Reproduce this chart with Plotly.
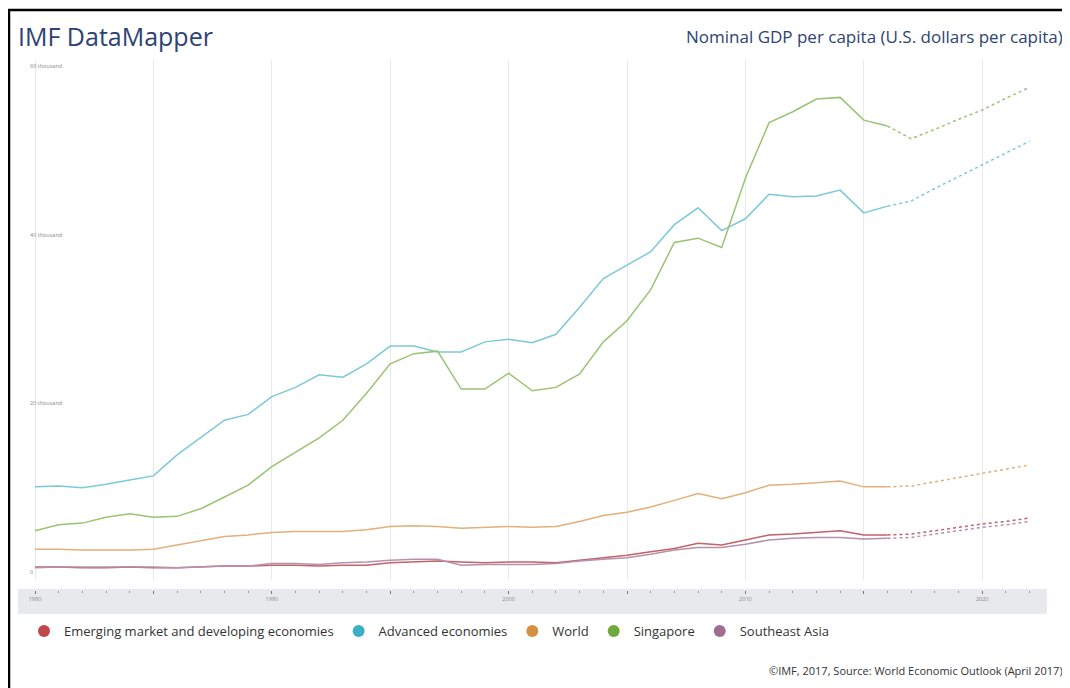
import plotly.graph_objects as go

years_hist = list(range(1980, 2017))
years_proj = list(range(2016, 2023))

emerging = [0.6, 0.6, 0.5, 0.5, 0.6, 0.5, 0.5, 0.6, 0.7, 0.7,
            0.8, 0.8, 0.7, 0.8, 0.8, 1.1, 1.2, 1.3, 1.2, 1.1,
            1.2, 1.2, 1.1, 1.4, 1.7, 2.0, 2.4, 2.8, 3.4, 3.2,
            3.8, 4.4, 4.5, 4.7, 4.9, 4.4, 4.4]
emerging_proj = [4.4, 4.5, 4.9, 5.3, 5.7, 6.0, 6.4]

advanced = [10.1, 10.2, 10.0, 10.4, 10.9, 11.4, 13.9, 16.0, 18.0, 18.7,
            20.8, 21.9, 23.4, 23.1, 24.7, 26.8, 26.8, 26.1, 26.1, 27.3,
            27.6, 27.2, 28.2, 31.4, 34.8, 36.4, 38.0, 41.2, 43.2, 40.5,
            41.9, 44.8, 44.5, 44.6, 45.3, 42.6, 43.4]
advanced_proj = [43.4, 44.0, 45.5, 46.9, 48.3, 49.7, 51.1]

world = [2.7, 2.7, 2.6, 2.6, 2.6, 2.7, 3.2, 3.7, 4.2, 4.4,
         4.7, 4.8, 4.8, 4.8, 5.0, 5.4, 5.5, 5.4, 5.2, 5.3,
         5.4, 5.3, 5.4, 6.0, 6.7, 7.1, 7.7, 8.5, 9.3, 8.7,
         9.4, 10.3, 10.4, 10.6, 10.8, 10.1, 10.1]
world_proj = [10.1, 10.2, 10.7, 11.2, 11.7, 12.2, 12.7]

singapore = [4.9, 5.6, 5.8, 6.5, 6.9, 6.5, 6.6, 7.5, 8.9, 10.3,
             12.5, 14.2, 15.9, 18.0, 21.2, 24.7, 25.9, 26.2, 21.7, 21.7,
             23.6, 21.5, 21.9, 23.5, 27.3, 29.8, 33.5, 39.1, 39.6, 38.5,
             46.7, 53.3, 54.6, 56.1, 56.3, 53.6, 52.9]
singapore_proj = [52.9, 51.4, 52.5, 53.7, 54.8, 56.2, 57.5]

seasia = [0.5, 0.6, 0.6, 0.6, 0.6, 0.6, 0.5, 0.6, 0.7, 0.7,
          1.0, 1.0, 0.9, 1.1, 1.2, 1.4, 1.5, 1.5, 0.8, 0.9,
          0.9, 0.9, 1.0, 1.3, 1.5, 1.7, 2.1, 2.6, 2.9, 2.9,
          3.3, 3.8, 4.0, 4.1, 4.1, 3.9, 4.0]
seasia_proj = [4.0, 4.1, 4.5, 4.9, 5.3, 5.6, 6.0]

names = ["Emerging market and developing economies", "Advanced economies",
         "World", "Singapore", "Southeast Asia"]
hist = [emerging, advanced, world, singapore, seasia]
proj = [emerging_proj, advanced_proj, world_proj, singapore_proj, seasia_proj]
dot_colors = ["#c1474e", "#3daec6", "#d4903f", "#6eaa3b", "#9e6d90"]
line_colors = ["#c2626a", "#7cc9d9", "#e2b07a", "#99c472", "#b790ab"]

y_tickvals = [0, 20, 40, 60]
y_ticktext = ["0", "20 thousand", "40 thousand", "60 thousand"]
x_tickvals = list(range(1980, 2021, 5))
x_ticktext = ["1980", "", "1990", "", "2000", "", "2010", "", "2020"]

fig = go.Figure()
for n, h, p, lc in zip(names, hist, proj, line_colors):
    fig.add_trace(go.Scatter(x=years_hist, y=h, mode="lines", name=n,
                             line=dict(color=lc, width=1.5), showlegend=False))
    fig.add_trace(go.Scatter(x=years_proj, y=p, mode="lines", name=n,
                             line=dict(color=lc, width=1.5, dash="dot"), showlegend=False))
for n, dc in zip(names, dot_colors):
    fig.add_trace(go.Scatter(x=[None], y=[None], mode="markers", name=n,
                             marker=dict(color=dc, size=12, symbol="circle")))

OFF = 8  # page body margin
W, H = 1070 - OFF, 688 - OFF
L, R, T, B = 18 - OFF, 23, 60 - OFF, 74
ph = H - T - B
pw = W - L - R

def py(pix):
    return (H - B - (pix - OFF)) / ph

def px(pix):
    return (pix - OFF - L) / pw

navy = "#2d4373"
font = "Open Sans"

fig.update_layout(
    width=W, height=H,
    margin=dict(l=L, r=R, t=T, b=B),
    paper_bgcolor="white", plot_bgcolor="white",
    font=dict(family=font, color="#333333"),
    xaxis=dict(range=[1980 - 17 / 23.68, 1980 + 1012 / 23.68],
               tickvals=x_tickvals, ticktext=x_ticktext,
               showgrid=True, gridcolor="#e9e9e9", gridwidth=1,
               zeroline=False, showline=False,
               anchor="free", position=py(590),
               ticks="outside", ticklen=3, tickcolor="#777777", tickwidth=1,
               minor=dict(dtick=1, ticks="outside", ticklen=2, tickcolor="#999999", showgrid=False),
               tickfont=dict(size=5.5, color="#888888")),
    yaxis=dict(range=[-8 / 8.43, (572 - 60) / 8.43],
               domain=[py(580), 1],
               side="right", anchor="free", position=px(28),
               tickvals=y_tickvals, ticktext=y_ticktext,
               ticklabelstandoff=1,
               showgrid=False, zeroline=False, showline=False, ticks="",
               tickfont=dict(size=5.5, color="#888888")),
    legend=dict(orientation="h", x=px(24), y=py(631), xanchor="left", yanchor="middle",
                font=dict(size=13, color="#333333", family=font),
                itemsizing="constant", bgcolor="rgba(0,0,0,0)"),
    showlegend=True,
)

fig.add_shape(type="rect", xref="paper", yref="paper", x0=0, x1=1, y0=0, y1=py(589),
              fillcolor="#e7e9ec", line=dict(width=0), layer="below")
fig.add_shape(type="path", xref="paper", yref="paper",
              path=f"M {px(9)} {py(700)} L {px(9)} {py(10)} L {px(1080)} {py(10)}",
              line=dict(color="black", width=2.5))

fig.add_annotation(text="IMF DataMapper", xref="paper", yref="paper",
                   x=px(16), y=py(36), xanchor="left", yanchor="middle", showarrow=False,
                   font=dict(size=25, color=navy, family=font))
fig.add_annotation(text="Nominal GDP per capita (U.S. dollars per capita)", xref="paper", yref="paper",
                   x=px(1065), y=py(36), xanchor="right", yanchor="middle", showarrow=False,
                   font=dict(size=17, color=navy, family=font))
fig.add_annotation(text="©IMF, 2017, Source: World Economic Outlook (April 2017)", xref="paper", yref="paper",
                   x=px(1065), y=py(670), xanchor="right", yanchor="middle", showarrow=False,
                   font=dict(size=11, color="#333333", family=font))

fig.write_html("out.html")
